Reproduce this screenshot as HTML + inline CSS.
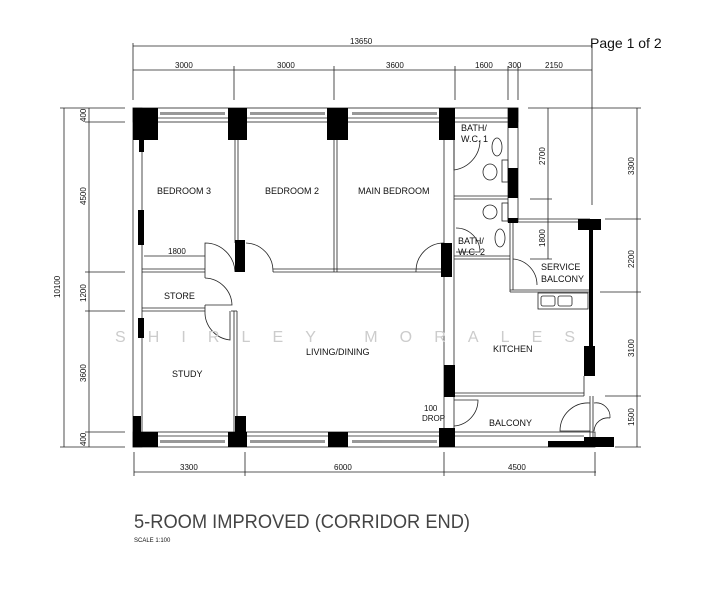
<!DOCTYPE html>
<html><head><meta charset="utf-8"><style>
html,body{margin:0;padding:0;background:#fff;width:709px;height:600px;overflow:hidden}
svg{display:block}
text{font-family:"Liberation Sans",sans-serif;fill:#111}
.l{font-size:9px}
.d{font-size:8px}
</style></head><body>
<svg width="709" height="600" viewBox="0 0 709 600" xmlns="http://www.w3.org/2000/svg">
<rect width="709" height="600" fill="#fff"/>
<g stroke="#222" stroke-width="0.8" fill="none">
<line x1="133" y1="46" x2="592" y2="46"/>
<line x1="133" y1="70" x2="592" y2="70"/>
<line x1="133" y1="43" x2="133" y2="100"/>
<line x1="592" y1="43" x2="592" y2="205"/>
<line x1="234" y1="66" x2="234" y2="100"/>
<line x1="334" y1="66" x2="334" y2="100"/>
<line x1="455" y1="66" x2="455" y2="100"/>
<line x1="508" y1="66" x2="508" y2="100"/>
<line x1="518" y1="66" x2="518" y2="100"/>
<line x1="64" y1="108" x2="64" y2="447"/>
<line x1="89" y1="108" x2="89" y2="447"/>
<line x1="60" y1="108" x2="125" y2="108"/>
<line x1="85" y1="122" x2="125" y2="122"/>
<line x1="85" y1="272" x2="125" y2="272"/>
<line x1="85" y1="311" x2="125" y2="311"/>
<line x1="85" y1="432" x2="125" y2="432"/>
<line x1="60" y1="447" x2="125" y2="447"/>
<line x1="548" y1="108" x2="548" y2="259"/>
<line x1="637" y1="108" x2="637" y2="447"/>
<line x1="528" y1="108" x2="641" y2="108"/>
<line x1="530" y1="199" x2="552" y2="199"/>
<line x1="605" y1="219" x2="641" y2="219"/>
<line x1="530" y1="259" x2="552" y2="259"/>
<line x1="600" y1="292" x2="641" y2="292"/>
<line x1="605" y1="396" x2="641" y2="396"/>
<line x1="615" y1="447" x2="641" y2="447"/>
<line x1="134" y1="472" x2="596" y2="472"/>
<line x1="134" y1="452" x2="134" y2="476"/>
<line x1="245" y1="452" x2="245" y2="476"/>
<line x1="444" y1="452" x2="444" y2="476"/>
<line x1="595" y1="452" x2="595" y2="476"/>
<line x1="144" y1="256" x2="205" y2="256"/>

<rect x="133" y="108" width="385" height="14"/>
<line x1="133" y1="118" x2="508" y2="118"/>
<rect x="133" y="108" width="9" height="339"/>
<rect x="133" y="432" width="462" height="15"/>
<line x1="142" y1="436" x2="584" y2="436"/>
<line x1="235" y1="122" x2="235" y2="243"/><line x1="238" y1="122" x2="238" y2="243"/>
<line x1="334" y1="122" x2="334" y2="272"/><line x1="337" y1="122" x2="337" y2="272"/>
<line x1="273" y1="269" x2="444" y2="269"/><line x1="273" y1="272" x2="444" y2="272"/>
<line x1="142" y1="269" x2="205" y2="269"/><line x1="142" y1="272" x2="205" y2="272"/>
<line x1="142" y1="308" x2="205" y2="308"/><line x1="142" y1="311" x2="205" y2="311"/>
<line x1="205" y1="272" x2="205" y2="278"/><line x1="205" y1="305" x2="205" y2="311"/>
<line x1="234" y1="311" x2="234" y2="432"/><line x1="237" y1="311" x2="237" y2="432"/>
<line x1="231" y1="311" x2="237" y2="311"/>
<line x1="444" y1="122" x2="444" y2="432"/><line x1="454" y1="122" x2="454" y2="432"/>
<line x1="454" y1="196" x2="508" y2="196"/><line x1="454" y1="199" x2="508" y2="199"/>
<line x1="454" y1="256" x2="510" y2="256"/><line x1="454" y1="259" x2="510" y2="259"/>
<rect x="508" y="108" width="10" height="114"/>
<line x1="518" y1="219" x2="590" y2="219"/><line x1="518" y1="222" x2="590" y2="222"/>
<line x1="510" y1="222" x2="510" y2="292"/><line x1="513" y1="222" x2="513" y2="290"/>
<line x1="510" y1="290" x2="590" y2="290"/><line x1="510" y1="292" x2="590" y2="292"/>
<rect x="538" y="293" width="50" height="16"/>
<rect x="541" y="296" width="14" height="10" rx="2"/><rect x="558" y="296" width="14" height="10" rx="2"/>
<line x1="454" y1="393" x2="584" y2="393"/><line x1="454" y1="396" x2="584" y2="396"/>
<line x1="584" y1="376" x2="584" y2="396"/>
<line x1="590" y1="396" x2="590" y2="437"/><line x1="593" y1="396" x2="593" y2="437"/>
<path d="M205 272 L205 243 A30 30 0 0 1 235 272"/>
<path d="M246 243 A28 28 0 0 1 273 272"/>
<path d="M444 243 A28 28 0 0 0 416 272"/>
<path d="M205 278 A28 28 0 0 1 232 305 L205 305"/>
<path d="M205 311 A28 28 0 0 0 230 340 L230 311"/>
<path d="M454 140 L454 170 A30 30 0 0 0 480 140"/>
<path d="M456 228 A24 24 0 0 1 480 252 L456 252"/>
<path d="M513 259 A26 26 0 0 1 537 285"/>
<path d="M454 400 L478 400 A26 26 0 0 1 454 426"/>
<path d="M590 403 A28 28 0 0 0 560 431 L590 431"/>
<path d="M594 403 A14 14 0 0 1 610 418 M594 431 A14 14 0 0 1 610 418"/>
<ellipse cx="497" cy="147" rx="5" ry="9"/><ellipse cx="490" cy="172" rx="7" ry="8"/>
<rect x="502" y="160" width="6" height="22"/>
<ellipse cx="490" cy="212" rx="7" ry="7"/><rect x="502" y="203" width="6" height="18"/>
<ellipse cx="500" cy="238" rx="5" ry="9"/>
</g>
<g fill="#555" opacity="0.6">
<rect x="160" y="112" width="65" height="3"/><rect x="250" y="112" width="75" height="3"/><rect x="352" y="112" width="85" height="3"/>
<rect x="160" y="440" width="65" height="3"/><rect x="250" y="440" width="75" height="3"/><rect x="352" y="440" width="85" height="3"/>
</g>
<g fill="#000">
<rect x="133" y="108" width="25" height="32"/><rect x="139" y="140" width="5" height="12"/>
<rect x="228" y="108" width="19" height="32"/>
<rect x="327" y="108" width="21" height="32"/>
<rect x="439" y="108" width="16" height="32"/>
<rect x="508" y="108" width="10" height="20"/><rect x="508" y="168" width="10" height="30"/>
<rect x="508" y="218" width="10" height="5"/>
<rect x="578" y="219" width="23" height="11"/>
<rect x="589" y="222" width="4" height="124"/>
<rect x="584" y="346" width="11" height="30"/>
<rect x="235" y="240" width="10" height="32"/>
<rect x="441" y="243" width="11" height="34"/>
<rect x="444" y="365" width="11" height="32"/>
<rect x="138" y="210" width="6" height="35"/><rect x="138" y="318" width="6" height="20"/>
<rect x="235" y="416" width="11" height="17"/>
<rect x="133" y="416" width="8" height="20"/>
<rect x="133" y="432" width="25" height="15"/>
<rect x="228" y="432" width="19" height="15"/>
<rect x="328" y="432" width="20" height="15"/>
<rect x="439" y="428" width="16" height="19"/>
<rect x="548" y="441" width="42" height="6"/>
<rect x="584" y="437" width="30" height="10"/>
</g>
<text x="115" y="342" textLength="460" lengthAdjust="spacing" style="font-size:16px;fill:#ccc">SHIRLEY MORALES</text>
<g class="d">
<text x="350" y="44" class="d">13650</text>
<text x="175" y="68">3000</text><text x="277" y="68">3000</text><text x="386" y="68">3600</text>
<text x="475" y="68">1600</text><text x="508" y="68">300</text><text x="545" y="68">2150</text>
<text x="168" y="254">1800</text>
<text x="180" y="470">3300</text><text x="334" y="470">6000</text><text x="508" y="470">4500</text>
</g>
<g class="d">
<text transform="translate(86,122) rotate(-90)">400</text>
<text transform="translate(86,205) rotate(-90)">4500</text>
<text transform="translate(60,298) rotate(-90)">10100</text>
<text transform="translate(86,302) rotate(-90)">1200</text>
<text transform="translate(86,382) rotate(-90)">3600</text>
<text transform="translate(86,446) rotate(-90)">400</text>
<text transform="translate(545,165) rotate(-90)">2700</text>
<text transform="translate(545,247) rotate(-90)">1800</text>
<text transform="translate(634,175) rotate(-90)">3300</text>
<text transform="translate(634,268) rotate(-90)">2200</text>
<text transform="translate(634,357) rotate(-90)">3100</text>
<text transform="translate(634,426) rotate(-90)">1500</text>
</g>
<g class="l">
<text x="157" y="194">BEDROOM 3</text>
<text x="265" y="194">BEDROOM 2</text>
<text x="358" y="194">MAIN BEDROOM</text>
<text x="461" y="131">BATH/</text><text x="461" y="142">W.C.  1</text>
<text x="458" y="244">BATH/</text><text x="458" y="255">W.C.  2</text>
<text x="541" y="270">SERVICE</text><text x="541" y="282">BALCONY</text>
<text x="164" y="299">STORE</text>
<text x="172" y="377">STUDY</text>
<text x="306" y="355">LIVING/DINING</text>
<text x="493" y="352">KITCHEN</text>
<text x="489" y="426">BALCONY</text>
<text x="424" y="411" class="d">100</text><text x="422" y="421" class="d">DROP</text>
</g>
<text x="134" y="528" textLength="336" lengthAdjust="spacingAndGlyphs" style="font-size:19px;fill:#444;font-weight:300">5-ROOM IMPROVED (CORRIDOR END)</text>
<text x="134" y="542" style="font-size:6px">SCALE  1:100</text>
<text x="590" y="48" style="font-size:14px">Page 1 of 2</text>
</svg>
</body></html>
